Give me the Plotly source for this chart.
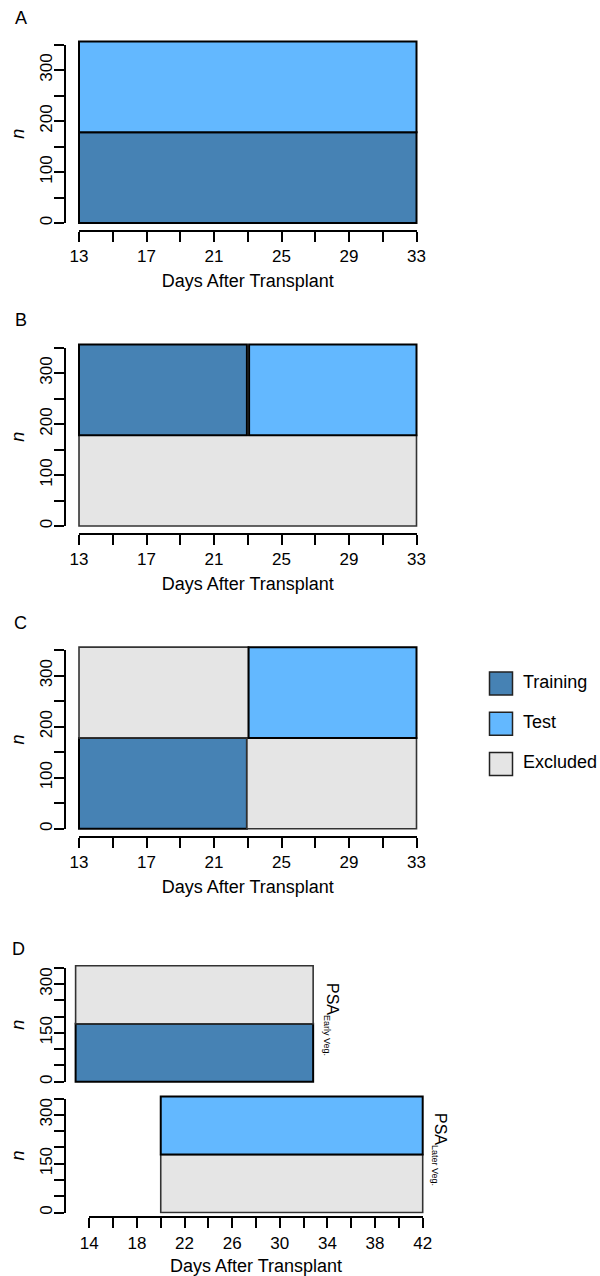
import plotly.graph_objects as go

# ---------------- data ----------------
COLORS = {"Training": "#4682B4", "Test": "#63B8FF", "Excluded": "#E5E5E5"}
LEGEND_ITEMS = ["Training", "Test", "Excluded"]

A_group = ["Training", "Test"]
A_x0 = [13, 13]
A_x1 = [33, 33]
A_y0 = [0, 178]
A_y1 = [178, 356]

B_group = ["Excluded", "Training", "Test"]
B_x0 = [13, 13, 23.08]
B_x1 = [33, 22.95, 33]
B_y0 = [0, 178, 178]
B_y1 = [178, 356, 356]

C_group = ["Training", "Excluded", "Excluded", "Test"]
C_x0 = [13, 13, 22.95, 23.05]
C_x1 = [22.95, 23.05, 33, 33]
C_y0 = [0, 178, 0, 178]
C_y1 = [178, 356, 178, 356]

D1_group = ["Training", "Excluded"]
D1_x0 = [12.85, 12.85]
D1_x1 = [32.8, 32.8]
D1_y0 = [0, 178]
D1_y1 = [178, 356]

D2_group = ["Excluded", "Test"]
D2_x0 = [20, 20]
D2_x1 = [42, 42]
D2_y0 = [0, 178]
D2_y1 = [178, 356]

ABC_xticks = list(range(13, 34, 2))
ABC_xlabels = [str(v) if (v - 13) % 4 == 0 else "" for v in ABC_xticks]
ABC_yticks = list(range(0, 351, 50))
ABC_ylabels = [str(v) if v % 100 == 0 else "" for v in ABC_yticks]
D_xticks = list(range(14, 43, 2))
D_xlabels = [str(v) if (v - 14) % 4 == 0 else "" for v in D_xticks]
D_yticks = list(range(0, 351, 50))
D_ylabels = [str(v) if v % 150 == 0 else "" for v in D_yticks]

# ---------------- layout helpers ----------------
W, H = 600, 1276
FONT = "Liberation Sans, Arial, Helvetica, sans-serif"


def fx(px):
    return px / W


def fy(py):
    return 1 - py / H


def xdom(rng, ref_val, ref_px, ppu):
    return [fx(ref_px + (rng[0] - ref_val) * ppu), fx(ref_px + (rng[1] - ref_val) * ppu)]


def ydom(rng, base_px, ppu):
    return [fy(base_px - rng[0] * ppu), fy(base_px - rng[1] * ppu)]


fig = go.Figure()


def add_rects(group, x0, x1, y0, y1, ax):
    fig.add_trace(go.Bar(
        x=x0,
        y=[b - a for a, b in zip(y0, y1)],
        base=y0,
        width=[b - a for a, b in zip(x0, x1)],
        offset=0,
        marker=dict(
            color=[COLORS[g] for g in group],
            line=dict(color=["#333333" if g == "Excluded" else "black" for g in group],
                      width=[1.6 if g == "Excluded" else 2 for g in group]),
        ),
        showlegend=False,
        hoverinfo="skip",
        xaxis="x" + ax, yaxis="y" + ax,
    ))


def add_anchor_trace(xa, ya, xv, yv):
    # invisible point so the display axes get their own subplot
    fig.add_trace(go.Scatter(x=[xv], y=[yv], mode="markers", marker=dict(opacity=0),
                             showlegend=False, hoverinfo="skip",
                             xaxis="x" + xa, yaxis="y" + ya))


tickfont = dict(family=FONT, size=17, color="black")
titlefont = dict(family=FONT, size=18, color="black")

vis_axis = dict(showline=True, linecolor="black", linewidth=2, ticks="outside",
                ticklen=10, tickwidth=2, tickcolor="black", showgrid=False,
                zeroline=False, tickfont=tickfont, automargin=False, fixedrange=True)
hidden = dict(visible=False, showgrid=False, zeroline=False, fixedrange=True)

layout = {}

# Panels A, B, C : data axes 1..3, display axes 6..8
ABC_PPU_X = 337.5 / 20.0
ABC_PPU_Y = 0.51
DATA_XR = [12.8, 33.2]
DATA_YR = [-4, 362]
panels = [(A_group, A_x0, A_x1, A_y0, A_y1, 223.0),
          (B_group, B_x0, B_x1, B_y0, B_y1, 526.0),
          (C_group, C_x0, C_x1, C_y0, C_y1, 828.7)]
for i, (g, x0, x1, y0, y1, base_px) in enumerate(panels):
    d = str(i + 1)
    v = str(i + 6)
    add_rects(g, x0, x1, y0, y1, d)
    layout["xaxis" + d] = dict(hidden, range=DATA_XR, domain=xdom(DATA_XR, 13, 79, ABC_PPU_X),
                               anchor="y" + d)
    layout["yaxis" + d] = dict(hidden, range=DATA_YR, domain=ydom(DATA_YR, base_px, ABC_PPU_Y),
                               anchor="x" + d)
    add_anchor_trace(v, v, 13, 0)
    layout["xaxis" + v] = dict(vis_axis, range=[13, 33], domain=xdom([13, 33], 13, 79, ABC_PPU_X),
                               anchor="free", position=fy(base_px + 8),
                               tickvals=ABC_xticks, ticktext=ABC_xlabels,
                               title=dict(text="Days After Transplant", font=titlefont, standoff=8))
    layout["yaxis" + v] = dict(vis_axis, range=[0, 350], domain=ydom([0, 350], base_px, ABC_PPU_Y),
                               anchor="free", position=fx(65),
                               tickvals=ABC_yticks, ticktext=ABC_ylabels, tickangle=-90,
                               ticklabelstandoff=-5,
                               title=dict(text="<i>n</i>", font=titlefont, standoff=7))

# Panel D : data axes 4, 5 ; display axes 9 (top y), 10 (bottom x & y)
D_PPU_X = (422.7 - 89.3) / 28.0
D_XR = [12.5, 42.4]
D_YR = [-4, 362]
D_TOP_BASE = 1081.7
D_BOT_BASE = 1212.5
D_PPU_Y = 114.0 / 350.0

add_rects(D1_group, D1_x0, D1_x1, D1_y0, D1_y1, "4")
add_rects(D2_group, D2_x0, D2_x1, D2_y0, D2_y1, "5")
for d, base in [("4", D_TOP_BASE), ("5", D_BOT_BASE)]:
    layout["xaxis" + d] = dict(hidden, range=D_XR, domain=xdom(D_XR, 14, 89.3, D_PPU_X), anchor="y" + d)
    layout["yaxis" + d] = dict(hidden, range=D_YR, domain=ydom(D_YR, base, D_PPU_Y), anchor="x" + d)

add_anchor_trace("9", "9", 14, 0)
add_anchor_trace("10", "10", 14, 0)
layout["xaxis9"] = dict(hidden, range=[14, 42], domain=xdom([14, 42], 14, 89.3, D_PPU_X), anchor="y9")
layout["yaxis9"] = dict(vis_axis, range=[0, 350], domain=ydom([0, 350], D_TOP_BASE, D_PPU_Y),
                        anchor="free", position=fx(65),
                        tickvals=D_yticks, ticktext=D_ylabels, tickangle=-90, ticklabelstandoff=-5,
                        title=dict(text="<i>n</i>", font=titlefont, standoff=7))
layout["xaxis10"] = dict(vis_axis, range=[14, 42], domain=xdom([14, 42], 14, 89.3, D_PPU_X),
                         anchor="free", position=fy(1217.3), tickvals=D_xticks, ticktext=D_xlabels,
                         title=dict(text="Days After Transplant", font=titlefont, standoff=8))
layout["yaxis10"] = dict(vis_axis, range=[0, 350], domain=ydom([0, 350], D_BOT_BASE, D_PPU_Y),
                         anchor="free", position=fx(65),
                         tickvals=D_yticks, ticktext=D_ylabels, tickangle=-90, ticklabelstandoff=-5,
                         title=dict(text="<i>n</i>", font=titlefont, standoff=7))

# Legend (drawn as its own small panel)
leg_idx = list(range(len(LEGEND_ITEMS)))
fig.add_trace(go.Scatter(
    x=[0] * len(LEGEND_ITEMS), y=leg_idx, mode="markers",
    marker=dict(symbol="square", size=23, color=[COLORS[c] for c in LEGEND_ITEMS],
                line=dict(color="#222222", width=1.5)),
    showlegend=False, hoverinfo="skip", cliponaxis=False, xaxis="x11", yaxis="y11"))
fig.add_trace(go.Scatter(
    x=[1] * len(LEGEND_ITEMS), y=leg_idx, mode="text", text=LEGEND_ITEMS,
    textposition="middle right", textfont=dict(family=FONT, size=18, color="black"),
    showlegend=False, hoverinfo="skip", cliponaxis=False, xaxis="x11", yaxis="y11"))
layout["xaxis11"] = dict(hidden, range=[-1, 1], domain=[fx(479), fx(523)], anchor="y11")
layout["yaxis11"] = dict(hidden, range=[2.5, -0.5], domain=[fy(784.1), fy(663.4)], anchor="x11")

annotations = []
for letter, xp, yp in [("A", 21, 18), ("B", 21, 320), ("C", 20, 623), ("D", 18, 949)]:
    annotations.append(dict(text=letter, x=fx(xp), y=fy(yp), xref="paper", yref="paper",
                            showarrow=False, xanchor="center", yanchor="middle",
                            font=dict(family=FONT, size=18, color="black")))

for lab, xp, yp in [("Early Veg.", 320, 981), ("Later Veg.", 428, 1111)]:
    annotations.append(dict(text="PSA<sub><span style='font-size:9px'>" + lab + "</span></sub>",
                            x=fx(xp), y=fy(yp), xref="paper", yref="paper",
                            showarrow=False, xanchor="left", yanchor="top", textangle=90,
                            font=dict(family=FONT, size=16, color="black")))

fig.update_layout(
    width=W, height=H, margin=dict(l=0, r=0, t=0, b=0),
    paper_bgcolor="white", plot_bgcolor="rgba(0,0,0,0)", barmode="overlay",
    font=dict(family=FONT, color="black"),
    annotations=annotations, showlegend=False,
    **layout,
)

fig.write_html("out.html", post_script="document.body.style.margin='0px';",
               config={"displayModeBar": False, "staticPlot": True})
